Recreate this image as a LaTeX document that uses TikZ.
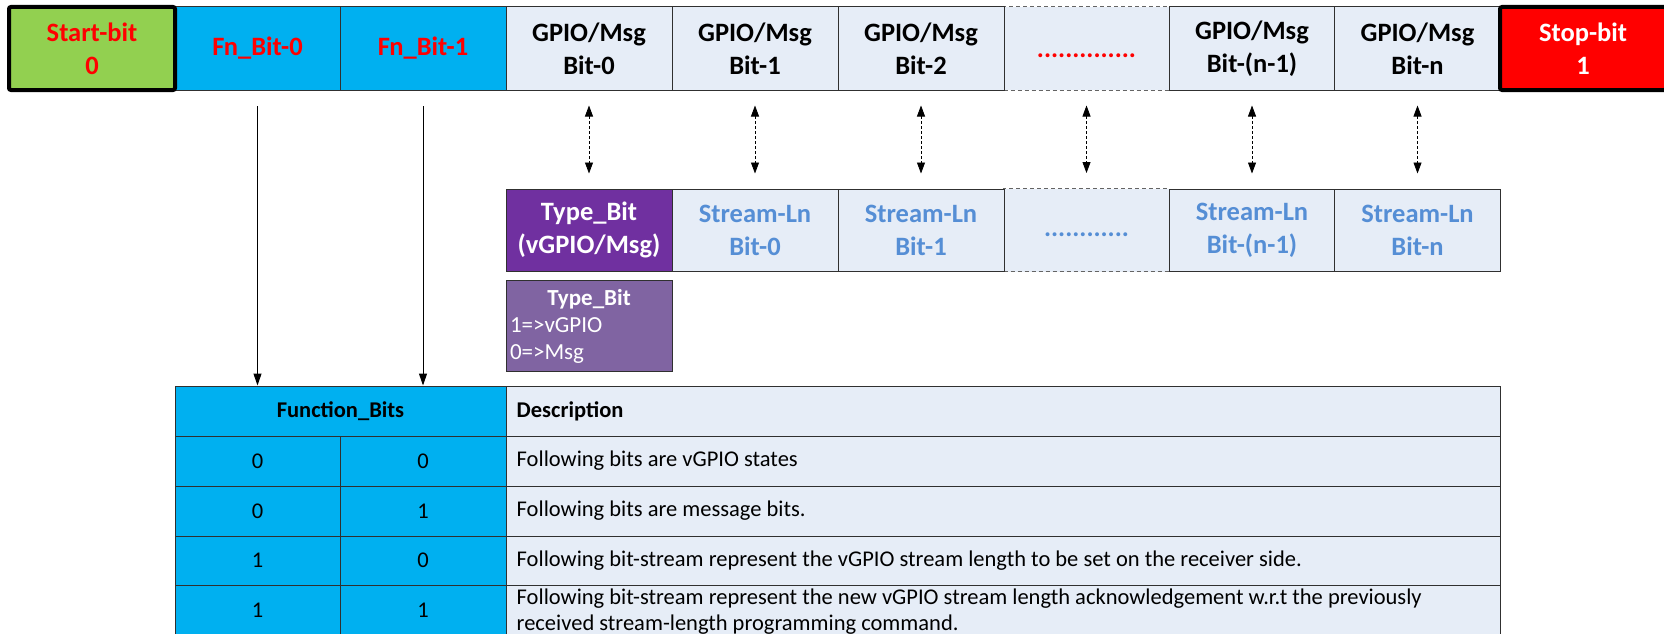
\documentclass[tikz,border=0pt]{standalone}
\usepackage{fontspec}
\setmainfont{Carlito}
\usetikzlibrary{arrows.meta,calc}
\definecolor{fngreen}{HTML}{92D050}
\definecolor{fnblue}{HTML}{00B0F0}
\definecolor{cellbg}{HTML}{E6EDF7}
\definecolor{typepurple}{HTML}{7030A0}
\definecolor{legpurple}{HTML}{8064A2}
\definecolor{lnblue}{HTML}{558ED5}
\definecolor{edgecol}{HTML}{303030}
\begin{document}
\begin{tikzpicture}[x=1pt,y=-1pt,
  bigfont/.style={font=\fontsize{26.5}{33}\selectfont\bfseries},
  bitcell/.style={draw=edgecol, line width=1pt, minimum width=166pt, minimum height=83pt,
    inner sep=0pt, align=center, bigfont, fill=cellbg},
  dashcell/.style={bitcell, draw=edgecol!75, dash pattern=on 4pt off 3pt},
  fncell/.style={bitcell, fill=fnblue, text=red},
  endcell/.style={bitcell, draw=black, line width=4pt, rounded corners=2pt},
  lowcell/.style={bitcell, minimum height=82pt, text=lnblue},
  tabcell/.style={draw=edgecol, line width=1pt, inner sep=0pt, align=center,
    font=\fontsize{22.5}{26.5}\selectfont},
  desctext/.style={inner sep=0pt, align=left, anchor=west, font=\fontsize{22.5}{26.5}\selectfont},
  fnarrow/.style={line width=1pt, -{Triangle[length=12pt,width=8pt]}},
  linkarrow/.style={line width=0.8pt, dash pattern=on 3pt off 2pt,
    {Triangle[length=11pt,width=8pt]}-{Triangle[length=11pt,width=8pt]},
    shorten <=15pt, shorten >=15pt}
]
\useasboundingbox (0,0) rectangle (1664,634);

% ---------- top row ----------
\node[dashcell] (gd) at (1086.5,48.5) {\textcolor{red}{\vphantom{Bit}..............}};
\node[bitcell] (g0) at (589,48.5) {GPIO/Msg\\Bit-0};
\node[bitcell] (g1) at (755,48.5) {GPIO/Msg\\Bit-1};
\node[bitcell] (g2) at (921,48.5) {GPIO/Msg\\Bit-2};
\node[bitcell] (gn1) at (1252,48.5) {GPIO/Msg\\Bit-(n-1)};
\node[bitcell] (gn) at (1417.5,48.5) {GPIO/Msg\\Bit-n};
\node[fncell] (fn0) at (257.5,48.5) {Fn\_Bit-0};
\node[fncell] (fn1) at (423,48.5) {Fn\_Bit-1};
\node[endcell, fill=fngreen, text=red] (start) at (92,48.5) {Start-bit\\0};
\node[endcell, fill=red, text=white] (stop) at (1583,48.5) {Stop-bit\\1};

% ---------- lower row ----------
\node[lowcell, dashcell] (sd) at (1086.5,230) {\textcolor{lnblue}{\vphantom{a}............}};
\node[lowcell, fill=typepurple, text=white] (tb) at (589,230) {Type\_Bit\\(vGPIO/Msg)};
\node[lowcell] (s0) at (755,230) {Stream-Ln\\Bit-0};
\node[lowcell] (s1) at (921,230) {Stream-Ln\\Bit-1};
\node[lowcell] (sn1) at (1252,230) {Stream-Ln\\Bit-(n-1)};
\node[lowcell] (sn) at (1417.5,230) {Stream-Ln\\Bit-n};

% ---------- legend ----------
\node[draw=edgecol, line width=1pt, fill=legpurple, text=white, minimum width=166pt,
  minimum height=91pt, text width=158pt, inner xsep=4pt, inner ysep=0pt, align=left,
  font=\fontsize{23}{27}\selectfont] (leg) at (589,326)
  {\makebox[158pt]{\bfseries Type\_Bit}\\1=>vGPIO\\0=>Msg};

% ---------- table ----------
\node[tabcell, fill=fnblue, minimum width=331pt, minimum height=50pt] (hdrF) at (340.5,411) {\bfseries Function\_Bits};
\node[tabcell, fill=cellbg, minimum width=994pt, minimum height=50pt] (hdrD) at (1003,411) {};
\node[desctext] (hdrDt) at ($(hdrD.west)+(11pt,0pt)$) {\bfseries Description};

\node[tabcell, fill=fnblue, minimum width=165pt, minimum height=50pt] (a1) at (257.5,461) {0};
\node[tabcell, fill=fnblue, minimum width=166pt, minimum height=50pt] (b1) at (423,461) {0};
\node[tabcell, fill=cellbg, minimum width=994pt, minimum height=50pt] (d1) at (1003,461) {};
\node[desctext] (d1t) at ($(d1.west)+(11pt,0pt)$) {Following bits are vGPIO states};

\node[tabcell, fill=fnblue, minimum width=165pt, minimum height=50pt] (a2) at (257.5,511) {0};
\node[tabcell, fill=fnblue, minimum width=166pt, minimum height=50pt] (b2) at (423,511) {1};
\node[tabcell, fill=cellbg, minimum width=994pt, minimum height=50pt] (d2) at (1003,511) {};
\node[desctext] (d2t) at ($(d2.west)+(11pt,0pt)$) {Following bits are message bits.};

\node[tabcell, fill=fnblue, minimum width=165pt, minimum height=49pt] (a3) at (257.5,560.5) {1};
\node[tabcell, fill=fnblue, minimum width=166pt, minimum height=49pt] (b3) at (423,560.5) {0};
\node[tabcell, fill=cellbg, minimum width=994pt, minimum height=49pt] (d3) at (1003,560.5) {};
\node[desctext] (d3t) at ($(d3.west)+(11pt,0pt)$) {Following bit-stream represent the vGPIO stream length to be set on the receiver side.};

\node[tabcell, fill=fnblue, minimum width=165pt, minimum height=51pt] (a4) at (257.5,610.5) {1};
\node[tabcell, fill=fnblue, minimum width=166pt, minimum height=51pt] (b4) at (423,610.5) {1};
\node[tabcell, fill=cellbg, minimum width=994pt, minimum height=51pt] (d4) at (1003,610.5) {};
\node[desctext] (d4t) at ($(d4.west)+(11pt,-1pt)$) {Following bit-stream represent the new vGPIO stream length acknowledgement w.r.t the previously\\received stream-length programming command.};

% ---------- connectors ----------
\coordinate (fa0) at (257.5,106);
\coordinate (fa1) at (423,106);
\draw[fnarrow] (fa0) -- (fa0 |- hdrF.north);
\draw[fnarrow] (fa1) -- (fa1 |- hdrF.north);

\draw[linkarrow] (g0.south) -- (tb.north);
\draw[linkarrow] (g1.south) -- (s0.north);
\draw[linkarrow] (g2.south) -- (s1.north);
\draw[linkarrow] (gd.south) -- (sd.north);
\draw[linkarrow] (gn1.south) -- (sn1.north);
\draw[linkarrow] (gn.south) -- (sn.north);
\end{tikzpicture}
\end{document}
